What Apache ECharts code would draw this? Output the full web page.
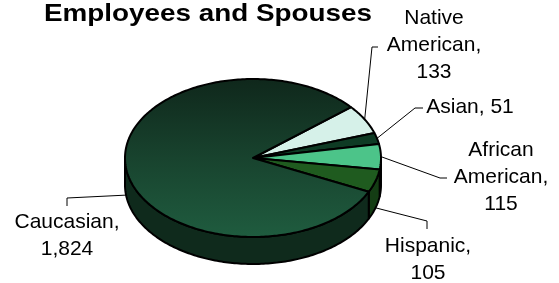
<!DOCTYPE html>
<html>
<head>
<meta charset="utf-8">
<script src="https://cdn.jsdelivr.net/npm/echarts@6/dist/echarts.min.js"></script>
<style>
html, body { margin: 0; padding: 0; background: #fff; }
#main { width: 559px; height: 283px; }
</style>
</head>
<body>
<div id="main"></div>
<script>
// data
var categories = ['Native American', 'Asian', 'African American', 'Hispanic', 'Caucasian'];
var values = [133, 51, 115, 105, 1824];

// styling / layout
var topColors = ['#d6f1e9', '#0e3b24', '#4cc489', '#1f5b1f', 'grad'];
var sideColors = ['#a9c9bf', '#0a2a19', '#2f8a5a', '#143d14', '#0f2a1c'];
var breakName = [true, false, true, false, false];
var breakValue = [true, false, true, true, true];
var labelPos = [[434, 45], [470, 107], [501, 177], [428, 260], [67, 236]];
var leaderElbow = [
    [[372, 47], [378, 47]],
    [[415, 108], [423, 108]],
    [[440, 178], [447, 178]],
    [[427, 221], [427, 229]],
    [[67, 198], [67, 206]]
];

var CX = 253, CY = 158, RX = 128, RY = 79, DEPTH = 27, START = 40;
var FONT = 'Liberation Sans, Arial, sans-serif';

var total = values.reduce(function (a, b) { return a + b; }, 0);

function pt(a, dy) {
    var r = a * Math.PI / 180;
    return [CX + RX * Math.cos(r), CY - RY * Math.sin(r) + (dy || 0)];
}

function arc(from, to, dy) {
    // from > to, walking clockwise
    var pts = [];
    for (var a = from; a > to; a -= 1) pts.push(pt(a, dy));
    pts.push(pt(to, dy));
    return pts;
}

function renderItem(params, api) {
    var i = params.dataIndex;
    var before = 0;
    for (var k = 0; k < i; k++) before += values[k];
    var a0 = START - before / total * 360;
    var a1 = a0 - api.value(0) / total * 360;
    var children = [];

    // front wall (lower half only)
    var s = Math.max(a1, -180), e = Math.min(a0, 0);
    if (s < e) {
        var wall = arc(e, s, 0).concat(arc(e, s, DEPTH).reverse());
        children.push({
            type: 'polygon',
            shape: { points: wall },
            style: { fill: sideColors[i], stroke: '#000', lineWidth: 2, lineJoin: 'round' }
        });
    }

    // top face
    var fill = topColors[i];
    if (fill === 'grad') {
        fill = new echarts.graphic.LinearGradient(0, 0, 0, 1, [
            { offset: 0, color: '#0f271b' },
            { offset: 0.5, color: '#18432e' },
            { offset: 1, color: '#1f5c3f' }
        ]);
    }
    children.push({
        type: 'polygon',
        shape: { points: [[CX, CY]].concat(arc(a0, a1, 0)) },
        style: { fill: fill, stroke: '#000', lineWidth: 2, lineJoin: 'round' }
    });

    // leader line + label
    var mid = (a0 + a1) / 2;
    var anchor = pt(mid, Math.sin(mid * Math.PI / 180) < 0 ? DEPTH : 0);
    children.push({
        type: 'polyline',
        shape: { points: [anchor].concat(leaderElbow[i]) },
        style: { stroke: '#000', lineWidth: 1, fill: null }
    });
    var name = categories[i];
    var txt = (breakName[i] ? name.replace(' ', '\n') : name) + ',' +
        (breakValue[i] ? '\n' : ' ') + api.value(0).toLocaleString('en-US');
    children.push({
        type: 'text',
        x: labelPos[i][0],
        y: labelPos[i][1],
        style: {
            text: txt,
            fill: '#000',
            fontSize: 21,
            fontFamily: FONT,
            align: 'center',
            verticalAlign: 'middle',
            lineHeight: 27
        }
    });

    return { type: 'group', children: children };
}

var chart = echarts.init(document.getElementById('main'));
chart.setOption({
    animation: false,
    graphic: [{
        type: 'text',
        x: 44,
        y: 14,
        scaleX: 1.16,
        style: {
            text: 'Employees and Spouses',
            fill: '#000',
            fontSize: 24,
            fontWeight: 'bold',
            fontFamily: FONT,
            align: 'left',
            verticalAlign: 'middle'
        }
    }],
    series: [{
        type: 'custom',
        coordinateSystem: 'none',
        renderItem: renderItem,
        data: values.map(function (v, i) { return { name: categories[i], value: [v] }; })
    }]
});
</script>
</body>
</html>
